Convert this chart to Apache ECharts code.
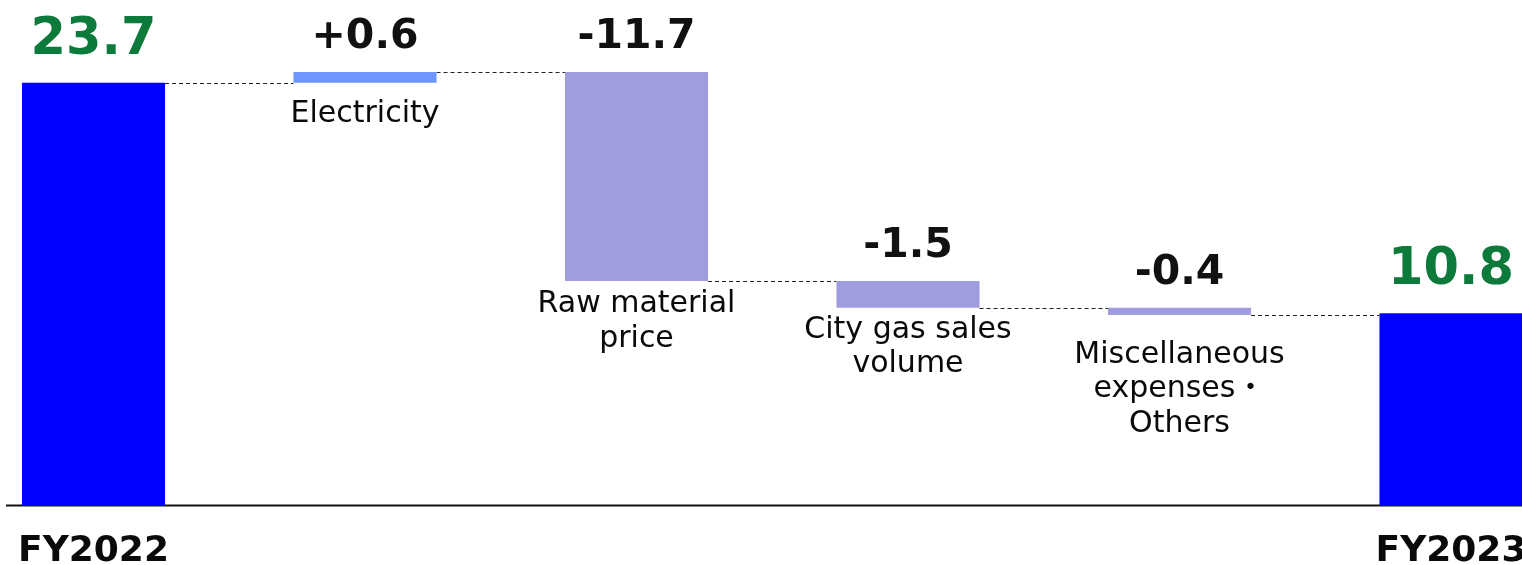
<!DOCTYPE html>
<html>
<head>
<meta charset="utf-8">
<title>Profit bridge FY2022 → FY2023</title>
<script src="https://cdn.jsdelivr.net/npm/echarts@6/dist/echarts.min.js"></script>
<style>
  html, body { margin: 0; padding: 0; background: #ffffff; }
  #chart { width: 1522px; height: 565px; }
</style>
</head>
<body>
<div id="chart"></div>
<script>
// Bridge steps, left to right
const categories = ['FY2022', 'Electricity', 'Raw material\nprice', 'City gas sales\nvolume', 'Miscellaneous\nexpenses・\nOthers', 'FY2023'];
const startTotal = 23.7;
const deltas = [0.6, -11.7, -1.5, -0.4];
const endTotal = 10.8;
const valueLabels = ['23.7', '+0.6', '-11.7', '-1.5', '-0.4', '10.8'];

const FONT = "'DejaVu Sans', 'Noto Sans CJK JP', sans-serif";
const TOTAL_COLOR = '#0000ff';
const UP_COLOR = '#6f96ff';
const DOWN_COLOR = '#9f9ddd';
const TOTAL_LABEL_COLOR = '#0c7a3a';

// Build invisible base + visible segment for each step
const base = [];
const visible = [];
const levels = [];           // running total after each bar (for connectors)
let running = startTotal;
base.push(0); visible.push(startTotal); levels.push(running);
deltas.forEach(d => {
  const next = running + d;
  base.push(Math.min(running, next));
  visible.push(Math.abs(d));
  running = next;
  levels.push(running);
});
base.push(0); visible.push(endTotal);

const lastIdx = categories.length - 1;
const isTotal = i => i === 0 || i === lastIdx;

// per-step nudge of the text under each change bar
const nameOffsets = [0, 14, 6, 5, 23, 0];

const barWidthRatio = 0.527;

const visibleData = visible.map((v, i) => {
  const total = isTotal(i);
  const color = total ? TOTAL_COLOR : (deltas[i - 1] > 0 ? UP_COLOR : DOWN_COLOR);
  return {
    value: v,
    itemStyle: { color },
    label: total
      ? { color: TOTAL_LABEL_COLOR, fontSize: 51, distance: 17 }
      : { color: '#111111', fontSize: 41, distance: 14 }
  };
});

const baseData = base.map((v, i) => ({
  value: v,
  label: {
    show: !isTotal(i),
    position: 'insideTop',
    distance: nameOffsets[i],
    formatter: () => categories[i],
    fontFamily: FONT,
    fontSize: 30,
    lineHeight: 34.5,
    color: '#0a0a0a'
  }
}));

const chart = echarts.init(document.getElementById('chart'), null, { renderer: 'canvas' });

chart.setOption({
  animation: false,
  backgroundColor: '#ffffff',
  grid: { left: 93.5, right: 71, top: 6, bottom: 59, containLabel: false, outerBoundsMode: 'none' },
  xAxis: {
    type: 'category',
    data: categories,
    boundaryGap: false,
    axisLine: { show: false },
    axisTick: { show: false },
    axisLabel: {
      interval: 0,
      margin: 28,
      fontFamily: FONT,
      fontSize: 36,
      fontWeight: 'bold',
      color: '#0a0a0a',
      formatter: (val, idx) => isTotal(idx) ? val : ''
    }
  },
  yAxis: {
    type: 'value',
    min: 0,
    max: 28,
    show: false,
    splitLine: { show: false }
  },
  series: [
    {
      name: 'base',
      type: 'bar',
      stack: 'bridge',
      clip: false,
      barWidth: (barWidthRatio * 100) + '%',
      itemStyle: { color: 'rgba(0,0,0,0)' },
      emphasis: { disabled: true },
      data: baseData,
      z: 3
    },
    {
      name: 'step',
      type: 'bar',
      stack: 'bridge',
      clip: false,
      barWidth: (barWidthRatio * 100) + '%',
      label: {
        show: true,
        position: 'top',
        fontFamily: FONT,
        fontWeight: 'bold',
        formatter: p => valueLabels[p.dataIndex]
      },
      data: visibleData,
      z: 3
    },
    {
      name: 'connector',
      type: 'custom',
      silent: true,
      clip: false,
      z: 2,
      data: levels.map((lv, i) => [i, lv]),
      renderItem: (params, api) => {
        const p = api.coord([api.value(0), api.value(1)]);
        const band = api.size([1, 0])[0];
        const half = band * barWidthRatio / 2;
        const y = Math.round(p[1]) + 0.5;
        return {
          type: 'line',
          shape: { x1: p[0] + half, y1: y, x2: p[0] + band - half, y2: y },
          style: { stroke: '#222222', lineWidth: 1, lineDash: [4, 3] }
        };
      }
    }
  ]
});

// baseline across the plot at the zero level
const y0 = chart.convertToPixel({ yAxisIndex: 0 }, 0);
chart.setOption({
  graphic: [{
    type: 'line',
    z: 1,
    shape: { x1: 6, y1: y0 - 0.5, x2: 1522, y2: y0 - 0.5 },
    style: { stroke: '#111111', lineWidth: 2 }
  }]
});
</script>
</body>
</html>
